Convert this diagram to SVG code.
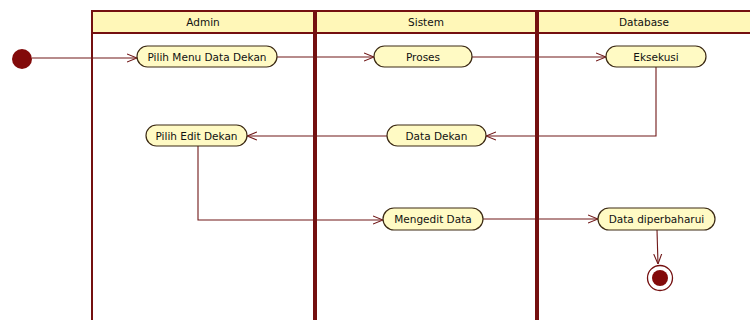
<svg xmlns="http://www.w3.org/2000/svg" width="750" height="320" viewBox="0 0 750 320">
<style>
.hdr{fill:#fff7b8;stroke:#741010;stroke-width:2}
.sep{stroke:#741010;stroke-width:4}
.edge{stroke:#741010;stroke-width:2}
.act{fill:#fffac4;stroke:#3c2a14;stroke-width:1.2}
.t{font-family:"DejaVu Sans",sans-serif;font-size:10.5px;fill:#111111;text-anchor:middle}
.conn{fill:none;stroke:#701818;stroke-width:1.1}
</style>
<defs>
<marker id="arr" viewBox="0 0 10 10" refX="10" refY="5" markerWidth="10" markerHeight="10" markerUnits="userSpaceOnUse" orient="auto">
<path d="M0,1 L10,5 L0,9" fill="none" stroke="#701818" stroke-width="1.1"/>
</marker>
</defs>
<rect width="750" height="320" fill="#ffffff"/>
<g id="swimlanes">
<rect class="hdr" x="92" y="11" width="670" height="22"/>
<line class="edge" x1="92" y1="11" x2="92" y2="320"/>
<line class="sep" x1="315" y1="10" x2="315" y2="320"/>
<line class="sep" x1="537" y1="10" x2="537" y2="320"/>
<text class="t" x="203" y="26">Admin</text>
<text class="t" x="426" y="26">Sistem</text>
<text class="t" x="644" y="26">Database</text>
</g>
<g id="connectors">
<path class="conn" d="M32,58 L137,58" marker-end="url(#arr)"/>
<path class="conn" d="M277,57 L374,57" marker-end="url(#arr)"/>
<path class="conn" d="M472,57 L606,57" marker-end="url(#arr)"/>
<path class="conn" d="M656,67 L656,136 L486,136" marker-end="url(#arr)"/>
<path class="conn" d="M387,136 L247,136" marker-end="url(#arr)"/>
<path class="conn" d="M198,146 L198,220 L383,220" marker-end="url(#arr)"/>
<path class="conn" d="M483,219 L598,219" marker-end="url(#arr)"/>
<path class="conn" d="M657,230 L658,264" marker-end="url(#arr)"/>
</g>
<g id="start"><circle cx="22" cy="59" r="10" fill="#820a0a"/></g>
<g id="pilihMenu"><rect class="act" x="137" y="46" width="140" height="21" rx="10.5"/><text class="t" x="207" y="60.5">Pilih Menu Data Dekan</text></g>
<g id="proses"><rect class="act" x="374" y="46" width="98" height="21" rx="10.5"/><text class="t" x="423" y="60.5">Proses</text></g>
<g id="eksekusi"><rect class="act" x="606" y="46" width="100" height="21" rx="10.5"/><text class="t" x="656" y="60.5">Eksekusi</text></g>
<g id="dataDekan"><rect class="act" x="387" y="125" width="99" height="21" rx="10.5"/><text class="t" x="436.5" y="139.5">Data Dekan</text></g>
<g id="pilihEdit"><rect class="act" x="146" y="125" width="101" height="21" rx="10.5"/><text class="t" x="196.5" y="139.5">Pilih Edit Dekan</text></g>
<g id="mengedit"><rect class="act" x="383" y="208" width="100" height="22" rx="11"/><text class="t" x="433" y="223">Mengedit Data</text></g>
<g id="diperbaharui"><rect class="act" x="598" y="208" width="117" height="22" rx="11"/><text class="t" x="656.5" y="223">Data diperbaharui</text></g>
<g id="end"><circle cx="660" cy="278" r="12.5" fill="#ffffff" stroke="#741010" stroke-width="1.3"/><circle cx="660" cy="278" r="8" fill="#820a0a"/></g>
</svg>
